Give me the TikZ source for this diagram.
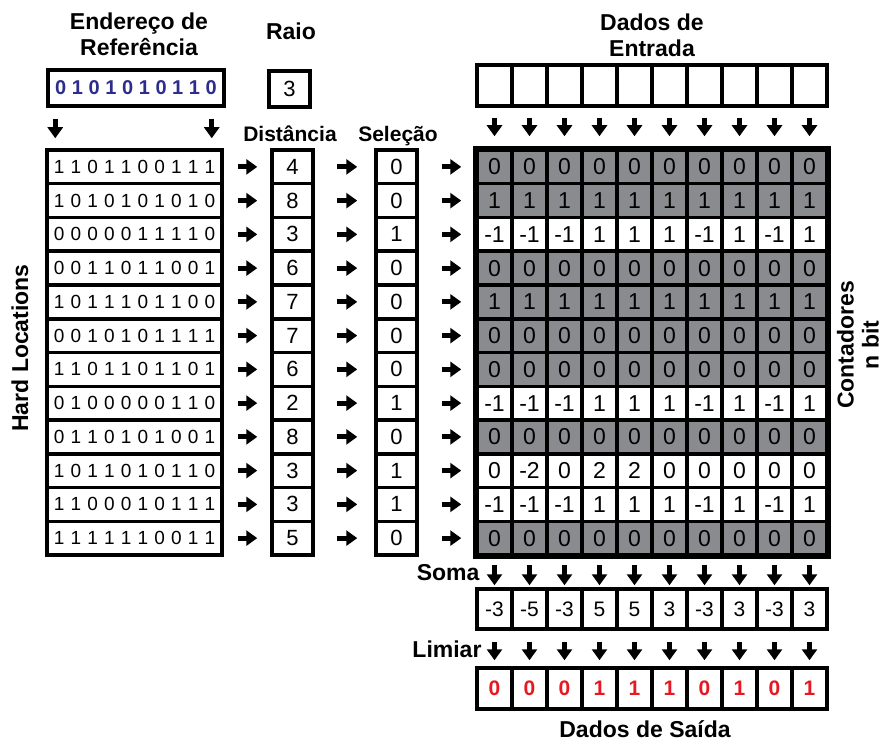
\documentclass[tikz,border=0pt]{standalone}
\usepackage{fontspec}
\setmainfont{Liberation Sans}
\usetikzlibrary{arrows.meta}
\definecolor{gris}{RGB}{138,139,143}
\definecolor{bleu}{RGB}{45,45,140}
\definecolor{rouge}{RGB}{230,25,35}
\begin{document}
\begin{tikzpicture}[x=1pt,y=-1pt]
  % Styles
  \tikzstyle{fleche}=[line width=5pt,-{Triangle[length=11pt,width=15pt]}]
  \tikzstyle{titre}=[font=\fontsize{23}{26}\selectfont\bfseries,align=center]
  \tikzstyle{boite}=[draw,line width=3.5pt,inner sep=0pt,minimum height=33.75pt]
  \tikzstyle{cellule}=[boite,minimum width=35pt,font=\fontsize{23}{23}\selectfont]
  \tikzstyle{cellule0}=[fill=gris]
  \tikzstyle{cellule1}=[fill=white]
  \tikzstyle{chiffre}=[font=\fontsize{22}{22}\selectfont]
  \tikzstyle{bits}=[font={\fontsize{19}{19}\selectfont\spaceskip=6.2pt}]
  % Contenu des compteurs
  \def\cptZ{0,0,0,0,0,0,0,0,0,0}
  \def\cptU{1,1,1,1,1,1,1,1,1,1}
  \def\cptA{-1,-1,-1,1,1,1,-1,1,-1,1}
  \def\cptB{0,-2,0,2,2,0,0,0,0,0}
  \useasboundingbox (0,0) rectangle (883,743);
  % Titres
  \node[titre,anchor=base] (tEnd) at (139,30) {Endereço de};
  \node[titre,anchor=base] (tRef) at (139,56) {Referência};
  \node[titre,anchor=base] (tRaio) at (291,40) {Raio};
  \node[titre,anchor=base] (tDados) at (652,31) {Dados de};
  \node[titre,anchor=base] (tEntr) at (652,57) {Entrada};
  \node[titre,anchor=base,font=\fontsize{21}{21}\selectfont\bfseries] (tDist) at (290,142) {Distância};
  \node[titre,anchor=base,font=\fontsize{21}{21}\selectfont\bfseries] (tSel) at (398,142) {Seleção};
  \node[titre,rotate=90] (tHard) at (20,348) {Hard Locations};
  \node[titre,rotate=90,font=\fontsize{23}{25}\selectfont\bfseries] (tCont) at (858,345) {Contadores\\n bit};
  \node[titre,anchor=base east] (tSoma) at (483,580) {Soma};
  \node[titre,anchor=base east] (tLim) at (485,657) {Limiar};
  \node[titre,anchor=base,inner sep=1pt] (tSai) at (645,737) {Dados de Saída};
  % Endereco et rayon
  \node[boite,minimum width=176pt,minimum height=36pt,font={\fontsize{20}{20}\selectfont\bfseries\spaceskip=5.6pt},text=bleu] (Ref) at (136,88) {0 1 0 1 0 1 0 1 1 0};
  \node[boite,minimum width=41pt,minimum height=36pt,chiffre] (Raio) at (289.5,89) {3};
  % Lignes
  \foreach \r/\bits/\dist/\sel/\type in {
    1/1 1 0 1 1 0 0 1 1 1/4/0/Z,
    2/1 0 1 0 1 0 1 0 1 0/8/0/U,
    3/0 0 0 0 0 1 1 1 1 0/3/1/A,
    4/0 0 1 1 0 1 1 0 0 1/6/0/Z,
    5/1 0 1 1 1 0 1 1 0 0/7/0/U,
    6/0 0 1 0 1 0 1 1 1 1/7/0/Z,
    7/1 1 0 1 1 0 1 1 0 1/6/0/Z,
    8/0 1 0 0 0 0 0 1 1 0/2/1/A,
    9/0 1 1 0 1 0 1 0 0 1/8/0/Z,
    10/1 0 1 1 0 1 0 1 1 0/3/1/B,
    11/1 1 0 0 0 1 0 1 1 1/3/1/A,
    12/1 1 1 1 1 1 0 0 1 1/5/0/Z}{
    \node[boite,minimum width=175pt,bits] (HL\r) at ({134.5},{133.125+33.75*\r}) {\bits};
    \node[boite,minimum width=41pt,chiffre] (D\r) at ({292.5},{133.125+33.75*\r}) {\dist};
    \node[boite,minimum width=41pt,chiffre] (S\r) at ({396.5},{133.125+33.75*\r}) {\sel};
    \expandafter\let\expandafter\liste\csname cpt\type\endcsname
    \foreach \v [count=\c] in \liste {
      \node[cellule,cellule\sel] (C-\r-\c) at ({459.5+35*\c},{133.125+33.75*\r}) {\v};
    }
    \draw[fleche] ([xshift=14pt]HL\r.east) -- ([xshift=-13pt]D\r.west);
    \draw[fleche] ([xshift=22pt]D\r.east) -- ([xshift=-17pt]S\r.west);
    \draw[fleche] ([xshift=23pt]S\r.east) -- ([xshift=-14pt]C-\r-1.west);
  }
  \draw[line width=4pt] (C-1-1.north west) rectangle (C-12-10.south east);
  % Fleches de l'adresse
  \draw[fleche] ([xshift=9pt,yshift=-11pt]Ref.south west) -- ([xshift=10pt,yshift=10pt]HL1.north west);
  \draw[fleche] ([xshift=-14pt,yshift=-11pt]Ref.south east) -- ([xshift=-12pt,yshift=10pt]HL1.north east);
  % Entree, somme et sortie
  \foreach \s/\o [count=\c] in {-3/0,-5/0,-3/0,5/1,5/1,3/1,-3/0,3/1,-3/0,3/1}{
    \node[boite,minimum width=35pt,minimum height=41pt] (E\c) at ({459.5+35*\c},85.5) {};
    \node[boite,minimum width=35pt,minimum height=40pt,font=\fontsize{21}{21}\selectfont] (Som\c) at ({459.5+35*\c},609) {\s};
    \node[boite,minimum width=35pt,minimum height=41pt,font=\fontsize{21}{21}\selectfont\bfseries,text=rouge] (Sai\c) at ({459.5+35*\c},688.5) {\o};
    \draw[fleche] ([yshift=-10pt]E\c.south) -- ([yshift=12pt]C-1-\c.north);
    \draw[fleche] ([yshift=-8pt]C-12-\c.south) -- ([yshift=2pt]Som\c.north);
    \draw[fleche] ([yshift=-11pt]Som\c.south) -- ([yshift=6pt]Sai\c.north);
  }
\end{tikzpicture}
\end{document}
